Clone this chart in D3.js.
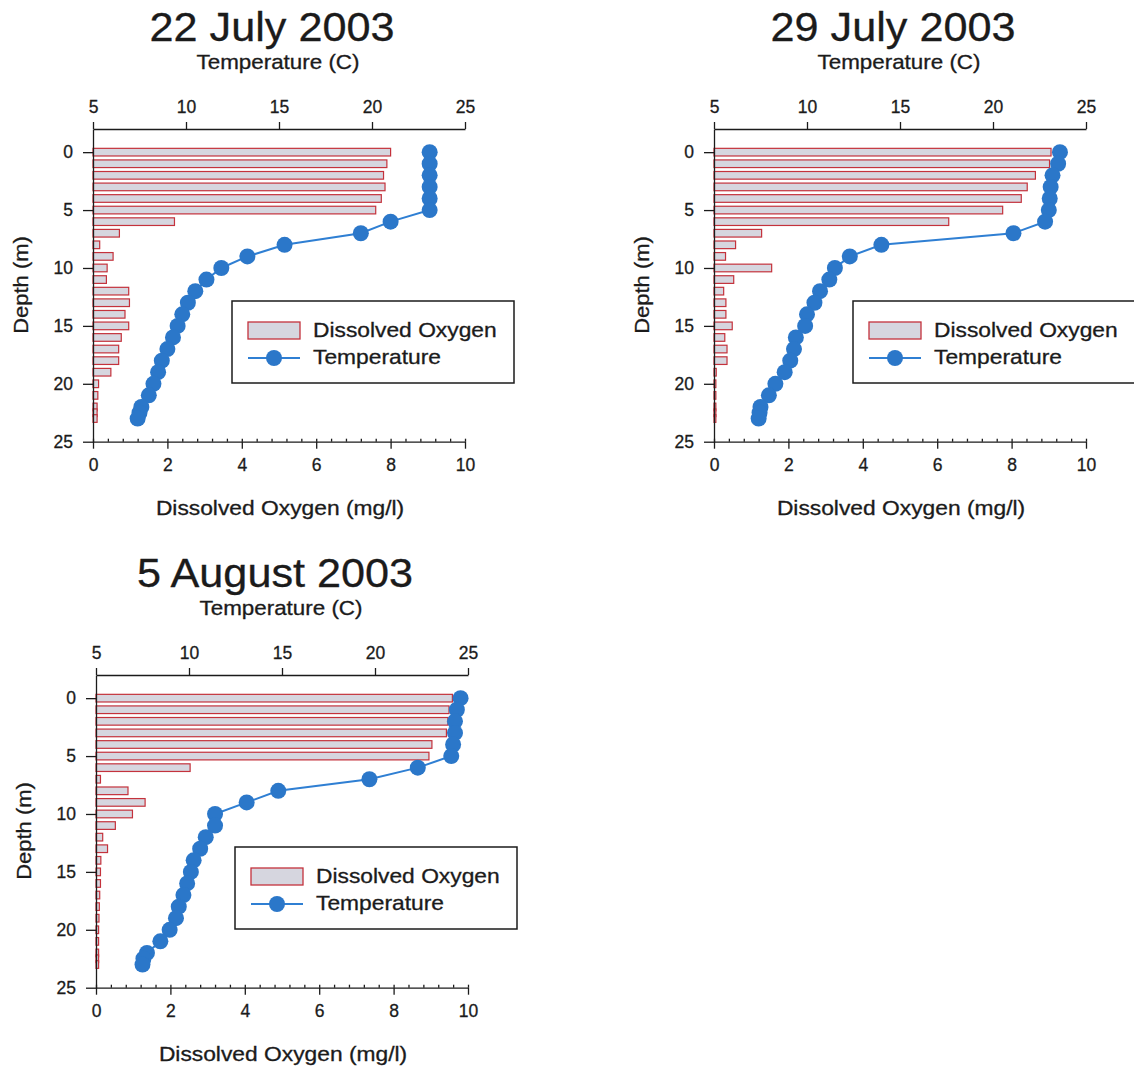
<!DOCTYPE html>
<html>
<head>
<meta charset="utf-8">
<script src="https://cdn.jsdelivr.net/npm/d3@7"></script>
<style>
  html, body { margin: 0; padding: 0; background: #ffffff; }
  svg { display: block; }
  text { font-family: Arial, "Liberation Sans", Helvetica, sans-serif; fill: #1b1b1b; stroke: #1b1b1b; stroke-width: 0.3px; }
</style>
</head>
<body>
<svg id="chart" width="1134" height="1072"></svg>
<script>
// Sampling depths (m) shared by every profile
const depths = [0, 1, 2, 3, 4, 5, 6, 7, 8, 9, 10, 11, 12, 13, 14, 15, 16, 17, 18, 19, 20, 21, 22, 22.5, 23];

// Profile dates
const dates = ["22 July 2003", "29 July 2003", "5 August 2003"];

// Dissolved oxygen (mg/l) by depth
const oxygen22Jul = [8.0, 7.9, 7.81, 7.85, 7.75, 7.6, 2.19, 0.71, 0.18, 0.54, 0.38, 0.36, 0.96, 0.98, 0.86, 0.96, 0.76, 0.69, 0.69, 0.48, 0.15, 0.13, 0.11, 0.11, 0.11];
const oxygen29Jul = [9.06, 9.02, 8.64, 8.42, 8.26, 7.76, 6.31, 1.28, 0.58, 0.31, 1.55, 0.53, 0.26, 0.32, 0.32, 0.49, 0.29, 0.35, 0.35, 0.06, 0.05, 0.05, 0.05, 0.05, 0.05];
const oxygen05Aug = [9.58, 9.49, 9.46, 9.42, 9.03, 8.95, 2.53, 0.12, 0.86, 1.32, 0.98, 0.52, 0.18, 0.31, 0.13, 0.12, 0.12, 0.10, 0.09, 0.08, 0.07, 0.07, 0.07, 0.07, 0.07];

// Water temperature (C) by depth
const temp22Jul = [23.1, 23.1, 23.1, 23.1, 23.1, 23.1, 21.0, 19.4, 15.3, 13.3, 11.9, 11.1, 10.5, 10.1, 9.8, 9.55, 9.3, 9.0, 8.7, 8.5, 8.25, 8.0, 7.6, 7.5, 7.4];
const temp29Jul = [23.6, 23.5, 23.2, 23.1, 23.05, 23.0, 22.8, 21.1, 14.0, 12.3, 11.5, 11.2, 10.7, 10.4, 10.0, 9.9, 9.4, 9.3, 9.1, 8.8, 8.3, 7.95, 7.5, 7.45, 7.4];
const temp05Aug = [24.6, 24.4, 24.3, 24.3, 24.2, 24.1, 22.3, 19.7, 14.8, 13.1, 11.4, 11.4, 10.9, 10.6, 10.25, 10.1, 9.9, 9.7, 9.45, 9.3, 8.96, 8.46, 7.74, 7.55, 7.5];

// Axis tick values
const oxygenTicks = [0, 2, 4, 6, 8, 10];
const tempTicks = [5, 10, 15, 20, 25];
const depthTicks = [0, 5, 10, 15, 20, 25];

const legendLabels = ["Dissolved Oxygen", "Temperature"];

const profiles = [
  { date: dates[0], oxygen: oxygen22Jul, temp: temp22Jul, left: 93,  top: 129 },
  { date: dates[1], oxygen: oxygen29Jul, temp: temp29Jul, left: 714, top: 129 },
  { date: dates[2], oxygen: oxygen05Aug, temp: temp05Aug, left: 96,  top: 675 }
];

const plotW = 372, plotH = 312.7;
const barFill = "#d6d6df", barStroke = "#c4323c";
const lineColor = "#2f7fd3", dotColor = "#2b77c9";

const svg = d3.select("#chart");

// Text drawn with a slight horizontal stretch (wide sans look)
function wideText(parent, str, x, y, size, stretch, anchor, rotate) {
  return parent.append("text")
    .attr("transform", `translate(${x},${y})${rotate ? ` rotate(${rotate})` : ""} scale(${stretch},1)`)
    .attr("text-anchor", anchor)
    .attr("font-size", size)
    .text(str);
}

profiles.forEach(p => {
  const g = svg.append("g").attr("transform", `translate(${p.left},${p.top})`);

  const x = d3.scaleLinear().domain([0, 10]).range([0, plotW]);
  const xT = d3.scaleLinear().domain([5, 25]).range([0, plotW]);
  const y = d3.scaleLinear().domain([-2, 25]).range([0, plotH]);
  const barHalf = 0.33;

  // Oxygen bars, one per sampled depth
  g.append("g").selectAll("rect")
    .data(depths.map((d, i) => ({ depth: d, value: p.oxygen[i] })))
    .join("rect")
    .attr("x", x(0))
    .attr("y", d => y(d.depth - barHalf))
    .attr("width", d => x(d.value) - x(0))
    .attr("height", d => y(d.depth + barHalf) - y(d.depth - barHalf))
    .attr("fill", barFill)
    .attr("stroke", barStroke)
    .attr("stroke-width", 1.2);

  // Temperature profile
  const pts = depths.map((d, i) => ({ depth: d, value: p.temp[i] }));
  g.append("path")
    .datum(pts)
    .attr("fill", "none")
    .attr("stroke", lineColor)
    .attr("stroke-width", 2)
    .attr("d", d3.line().x(d => xT(d.value)).y(d => y(d.depth)));
  g.append("g").selectAll("circle")
    .data(pts)
    .join("circle")
    .attr("cx", d => xT(d.value))
    .attr("cy", d => y(d.depth))
    .attr("r", 8)
    .attr("fill", dotColor);

  // Bottom axis: dissolved oxygen, with minor ticks inside
  const xAxis = g.append("g").attr("transform", `translate(0,${plotH})`)
    .call(d3.axisBottom(x).tickValues(oxygenTicks).tickSize(7).tickSizeOuter(0).tickPadding(10).tickFormat(d3.format("d")));
  const xMinor = g.append("g").attr("transform", `translate(0,${plotH})`)
    .call(d3.axisBottom(x).tickValues(d3.range(0, 10.001, 0.4)).tickSize(-3).tickSizeOuter(0).tickFormat(""))
    .call(a => a.select(".domain").remove());

  // Top axis: temperature
  const tAxis = g.append("g")
    .call(d3.axisTop(xT).tickValues(tempTicks).tickSize(7).tickSizeOuter(0).tickPadding(9).tickFormat(d3.format("d")));

  // Left axis: depth
  const yAxis = g.append("g")
    .call(d3.axisLeft(y).tickValues(depthTicks).tickSize(10).tickSizeOuter(0).tickPadding(10).tickFormat(d3.format("d")));

  [xAxis, xMinor, tAxis, yAxis].forEach(a => {
    a.selectAll("text").attr("font-size", 17.5).style("font-family", "Arial, 'Liberation Sans', sans-serif").attr("fill", "#1b1b1b");
    a.selectAll("line, path").attr("stroke", "#1b1b1b").attr("stroke-width", 1.3);
  });

  // Titles
  wideText(g, p.date, 179, -88, 40, 1.08, "middle");
  wideText(g, "Temperature (C)", 185, -60, 20, 1.12, "middle");
  wideText(g, "Dissolved Oxygen (mg/l)", 187, plotH + 73.5, 20, 1.14, "middle");
  wideText(g, "Depth (m)", -65, 156, 20, 1.1, "middle", -90);

  // Legend
  const lg = g.append("g").attr("transform", "translate(139,172)");
  lg.append("rect")
    .attr("width", 282).attr("height", 82)
    .attr("fill", "#ffffff")
    .attr("stroke", "#1b1b1b").attr("stroke-width", 1.5);
  lg.append("rect")
    .attr("x", 16).attr("y", 21).attr("width", 52).attr("height", 17)
    .attr("fill", barFill).attr("stroke", barStroke).attr("stroke-width", 1.3);
  lg.append("line")
    .attr("x1", 16).attr("x2", 68).attr("y1", 57).attr("y2", 57)
    .attr("stroke", lineColor).attr("stroke-width", 2);
  lg.append("circle")
    .attr("cx", 42).attr("cy", 57).attr("r", 8).attr("fill", dotColor);
  legendLabels.forEach((lab, i) => wideText(lg, lab, 81, 36 + i * 27, 20, 1.14, "start"));
});
</script>
</body>
</html>
